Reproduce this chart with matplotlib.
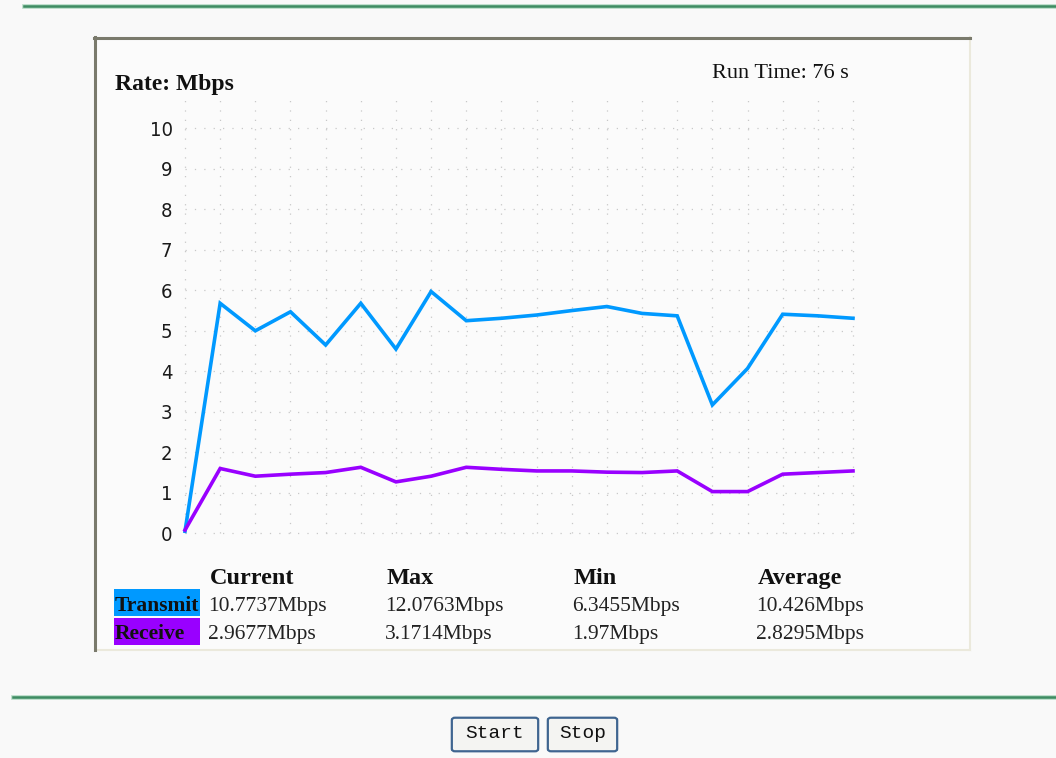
import matplotlib
matplotlib.use('Agg')
from matplotlib import pyplot as plt
from matplotlib.patches import Rectangle, FancyBboxPatch
from matplotlib.lines import Line2D
import numpy as np

# samples, one per grid step
transmit = [0.05, 5.68, 5.0, 5.47, 4.65, 5.68, 4.55, 5.97, 5.25, 5.31,
            5.39, 5.5, 5.6, 5.43, 5.37, 3.17, 4.07, 5.41, 5.37, 5.31]
receive = [0.08, 1.6, 1.41, 1.46, 1.5, 1.63, 1.27, 1.41, 1.63, 1.58,
           1.54, 1.54, 1.51, 1.5, 1.54, 1.03, 1.03, 1.46, 1.5, 1.54]
y_ticks = list(range(0, 11))

headers = ['Current', 'Max', 'Min', 'Average']
tx_stats = ['10.7737Mbps', '12.0763Mbps', '6.3455Mbps', '10.426Mbps']
rx_stats = ['2.9677Mbps', '3.1714Mbps', '1.97Mbps', '2.8295Mbps']
run_time = 76

W, H = 1056, 758
TX_COLOR = '#0099ff'
RX_COLOR = '#9900ff'
SERIF = 'Liberation Serif'


def fx(x):
    return x / W


def fy(y):
    return 1 - y / H


fig = plt.figure(figsize=(W / 100, H / 100), dpi=100)
fig.patch.set_facecolor('#f9f9f9')

# green separator lines
for y0, x0 in [(6, 24), (697, 13)]:
    fig.add_artist(Line2D([fx(x0), 1], [fy(y0), fy(y0)], color='#b9dcc8', lw=3.4, zorder=-2))
    fig.add_artist(Line2D([fx(x0), 1], [fy(y0), fy(y0)], color='#3e8c62', lw=1.8, zorder=-2))

# panel
fig.add_artist(Rectangle((fx(95), fy(650)), fx(970 - 95), (650 - 37) / H,
                         facecolor='#fbfbfb', edgecolor='none', zorder=-3))
fig.add_artist(Line2D([fx(970), fx(970)], [fy(37), fy(650)], color='#ebe9dc', lw=1.5, zorder=-2))
fig.add_artist(Line2D([fx(95), fx(970)], [fy(650), fy(650)], color='#ebe9dc', lw=1.5, zorder=-2))
fig.add_artist(Line2D([fx(94.5), fx(94.5)], [fy(37), fy(650)], color='#7a7a6c', lw=2.2, zorder=-2))
fig.add_artist(Line2D([fx(94), fx(970)], [fy(37.5), fy(37.5)], color='#7a7a6c', lw=2.2, zorder=-2))

# plot area
ax = fig.add_axes([fx(185), fy(533.3), fx(853 - 185), (533.3 - 100) / H])
ax.set_zorder(5)
ax.patch.set_visible(False)
n = len(transmit)
xs = np.arange(n)
ax.set_xlim(0, n - 1)
ax.set_ylim(0, 10.7)
for s in ax.spines.values():
    s.set_visible(False)
ax.set_xticks([])
ax.set_yticks(y_ticks)
ax.set_yticklabels([str(v) for v in y_ticks], fontsize=14.5, family='DejaVu Sans',
                   color='#1a1a1a', stretch='condensed')
ax.tick_params(axis='y', length=0, pad=9)

for i in xs:
    ax.plot([i, i], [0, 10.7], color='#c8c8c8', lw=0.9, ls=(0, (1, 6.5)), clip_on=False)
for v in y_ticks:
    ax.plot([0, n - 1 + 0.05], [v, v], color='#c8c8c8', lw=0.9, ls=(0, (1, 6.5)), clip_on=False)

ax.plot(xs, transmit, color=TX_COLOR, lw=2.6, clip_on=False, solid_joinstyle='miter')
ax.plot(xs, receive, color=RX_COLOR, lw=2.6, clip_on=False, solid_joinstyle='miter')

# texts
fig.text(fx(115), fy(90), 'Rate: Mbps', family=SERIF, weight='bold', fontsize=17,
         va='baseline', color='#111111')
fig.text(fx(712), fy(78), 'Run Time: %d s' % run_time, family=SERIF, fontsize=16,
         va='baseline', color='#111111')

col_x = [208, 385, 572, 756]
for x0, h, t, r in zip(col_x, headers, tx_stats, rx_stats):
    fig.text(fx(x0 + 2), fy(584), h, family=SERIF, weight='bold', fontsize=17.5,
             va='baseline', color='#111111')
    fig.text(fx(x0), fy(611), t, family=SERIF, fontsize=15.5, va='baseline', color='#222222')
    fig.text(fx(x0), fy(639), r, family=SERIF, fontsize=15.5, va='baseline', color='#222222')

fig.add_artist(Rectangle((fx(114), fy(616)), fx(200 - 114), 27 / H,
                         facecolor=TX_COLOR, edgecolor='none'))
fig.add_artist(Rectangle((fx(114), fy(644.5)), fx(200 - 114), 26.5 / H,
                         facecolor=RX_COLOR, edgecolor='none'))
fig.text(fx(115), fy(611), 'Transmit', family=SERIF, weight='bold', fontsize=15.5,
         va='baseline', color='#111111')
fig.text(fx(115), fy(639), 'Receive', family=SERIF, weight='bold', fontsize=15.5,
         va='baseline', color='#111111')

# buttons
for x0, x1, label in [(452, 538, 'Start'), (548, 617, 'Stop')]:
    fig.add_artist(FancyBboxPatch((fx(x0 + 3), fy(749)), fx(x1 - x0 - 6), 29 / H,
                                  boxstyle='round,pad=0.003', facecolor='#f4f4f2',
                                  edgecolor='#3f6590', lw=1.6))
    fig.text(fx((x0 + x1) / 2), fy(733), label, family='Liberation Mono', fontsize=14,
             ha='center', va='center', color='#111111')

fig.savefig('out.png', dpi=100, facecolor=fig.get_facecolor())
